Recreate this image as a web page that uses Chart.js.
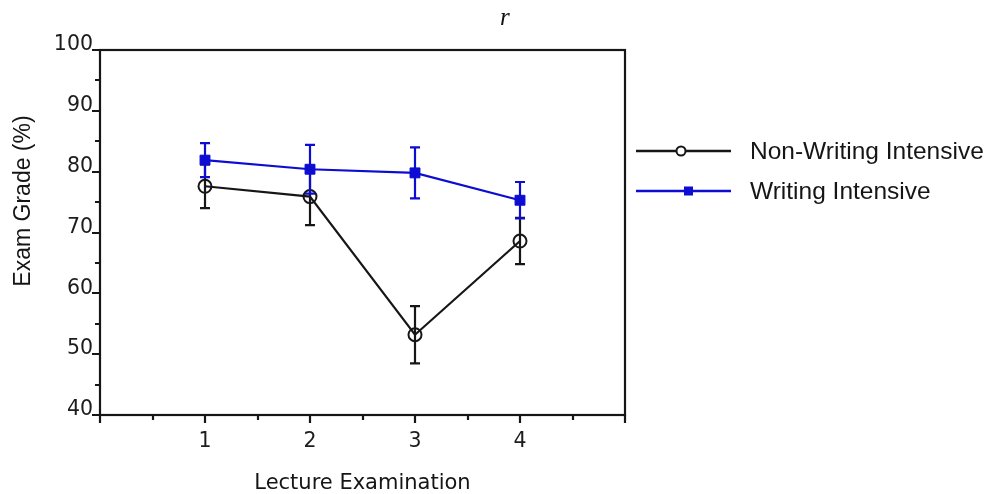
<!DOCTYPE html>
<html>
<head>
<meta charset="utf-8">
<script src="https://cdn.jsdelivr.net/npm/chart.js@4.4.1/dist/chart.umd.min.js"></script>
<style>
    html, body { margin: 0; padding: 0; background: #fff; }
    #wrap { position: relative; width: 991px; height: 494px; }
    #mark { position: absolute; left: 500px; top: 3px; font: italic 25px "Liberation Serif", serif; color: #111; }
</style>
</head>
<body>
<div id="wrap">
    <canvas id="chart" width="991" height="494"></canvas>
    <div id="mark">r</div>
</div>
<script>
// Valores
const exams = [1, 2, 3, 4];
const nonWriting = [77.6, 75.9, 53.2, 68.6];
const nonWritingErr = [3.6, 4.7, 4.7, 3.8];
const writing = [81.9, 80.4, 79.8, 75.3];
const writingErr = [2.8, 4.0, 4.2, 3.0];
const seriesLabels = ['Non-Writing Intensive', 'Writing Intensive'];
const xLabels = ['1', '2', '3', '4'];

const BLACK = '#161616';
const BLUE = '#0c0cd2';

function toPoints(values) {
    return exams.map(function(x, i) { return { x: x, y: values[i] }; });
}

// Barras de erro, eixos com marcas e legenda
const framePlugin = {
    id: 'frame',
    beforeDatasetDraw(chart, args) {
        const ds = chart.data.datasets[args.index];
        const meta = chart.getDatasetMeta(args.index);
        const y = chart.scales.y;
        const ctx = chart.ctx;
        ctx.save();
        ctx.strokeStyle = ds.borderColor;
        ctx.lineWidth = 2.2;
        meta.data.forEach(function(pt, i) {
            const v = ds.data[i].y;
            const top = y.getPixelForValue(v + ds.errors[i]);
            const bot = y.getPixelForValue(v - ds.errors[i]);
            ctx.beginPath();
            ctx.moveTo(pt.x, top);
            ctx.lineTo(pt.x, bot);
            ctx.moveTo(pt.x - 5, top);
            ctx.lineTo(pt.x + 5, top);
            ctx.moveTo(pt.x - 5, bot);
            ctx.lineTo(pt.x + 5, bot);
            ctx.stroke();
        });
        ctx.restore();
    },
    afterDraw(chart) {
        const ctx = chart.ctx;
        const a = chart.chartArea;
        const xs = chart.scales.x;
        const ys = chart.scales.y;
        ctx.save();
        ctx.strokeStyle = BLACK;
        ctx.lineWidth = 2.2;
        ctx.strokeRect(a.left, a.top, a.right - a.left, a.bottom - a.top);

        ctx.beginPath();
        for (let v = ys.min; v <= ys.max + 0.01; v += 5) {
            const py = Math.round(ys.getPixelForValue(v));
            const len = (v % 10 === 0) ? 8 : 5;
            ctx.moveTo(a.left - len, py);
            ctx.lineTo(a.left, py);
        }
        for (let v = xs.min; v <= xs.max + 0.01; v += 0.5) {
            const px = Math.round(xs.getPixelForValue(v));
            const len = (v % 1 === 0) ? 8 : 5;
            ctx.moveTo(px, a.bottom);
            ctx.lineTo(px, a.bottom + len);
        }
        ctx.stroke();

        // título do eixo y
        ctx.save();
        ctx.translate(24, 201);
        ctx.rotate(-Math.PI / 2);
        ctx.fillStyle = '#151515';
        ctx.font = '23px "Liberation Sans", Arial, sans-serif';
        ctx.textAlign = 'center';
        ctx.textBaseline = 'middle';
        ctx.fillText('Exam Grade (%)', 0, 0);
        ctx.restore();

        // legenda
        chart.data.datasets.forEach(function(ds, i) {
            const ly = 151 + i * 40;
            ctx.strokeStyle = ds.borderColor;
            ctx.lineWidth = 2.5;
            ctx.beginPath();
            ctx.moveTo(636, ly);
            ctx.lineTo(731, ly);
            ctx.stroke();
            if (ds.pointStyle === 'rect') {
                ctx.fillStyle = ds.borderColor;
                ctx.fillRect(684, ly - 4.5, 9, 9);
            } else {
                ctx.fillStyle = '#fff';
                ctx.lineWidth = 2;
                ctx.beginPath();
                ctx.arc(681, ly, 4.5, 0, Math.PI * 2);
                ctx.fill();
                ctx.stroke();
            }
            ctx.fillStyle = '#151515';
            ctx.font = '24.5px "Liberation Sans", Arial, sans-serif';
            ctx.textAlign = 'left';
            ctx.textBaseline = 'middle';
            ctx.fillText(ds.label, 750, ly + 1);
        });
        ctx.restore();
    }
};

const tickFont = { family: '"DejaVu Sans", Verdana, sans-serif', size: 20.5 };

new Chart(document.getElementById('chart'), {
    type: 'line',
    data: {
        datasets: [{
            label: seriesLabels[0],
            data: toPoints(nonWriting),
            errors: nonWritingErr,
            borderColor: BLACK,
            backgroundColor: 'rgba(0,0,0,0)',
            borderWidth: 2.2,
            pointStyle: 'circle',
            pointRadius: 6.5,
            pointBorderWidth: 2,
            pointBackgroundColor: 'rgba(0,0,0,0)',
            tension: 0,
            order: 2
        }, {
            label: seriesLabels[1],
            data: toPoints(writing),
            errors: writingErr,
            borderColor: BLUE,
            backgroundColor: BLUE,
            borderWidth: 2.2,
            pointStyle: 'rect',
            pointRadius: 7,
            pointBorderWidth: 1,
            pointBackgroundColor: BLUE,
            tension: 0,
            order: 1
        }]
    },
    options: {
        responsive: false,
        animation: false,
        devicePixelRatio: 1,
        events: [],
        layout: { padding: { left: 0, right: 366, top: 50, bottom: 0 } },
        plugins: {
            legend: { display: false },
            tooltip: { enabled: false }
        },
        scales: {
            x: {
                type: 'linear',
                min: 0,
                max: 5,
                grid: { display: false, drawTicks: false },
                border: { display: false },
                ticks: {
                    stepSize: 1,
                    autoSkip: false,
                    maxRotation: 0,
                    padding: 14,
                    color: '#1c1c1c',
                    font: tickFont,
                    callback: function(v) {
                        const i = exams.indexOf(v);
                        return i >= 0 ? xLabels[i] : '';
                    }
                },
                title: {
                    display: true,
                    text: 'Lecture Examination',
                    color: '#151515',
                    font: { family: '"DejaVu Sans", Verdana, sans-serif', size: 21, lineHeight: 1 },
                    padding: { top: 0, bottom: 0 }
                },
                afterFit: function(s) { s.height = 79; }
            },
            y: {
                min: 40,
                max: 100,
                grid: { display: false, drawTicks: false },
                border: { display: false },
                ticks: {
                    stepSize: 10,
                    padding: 7,
                    labelOffset: -5,
                    color: '#1c1c1c',
                    font: tickFont
                },
                afterFit: function(s) { s.width = 100; }
            }
        }
    },
    plugins: [framePlugin]
});
</script>
</body>
</html>
